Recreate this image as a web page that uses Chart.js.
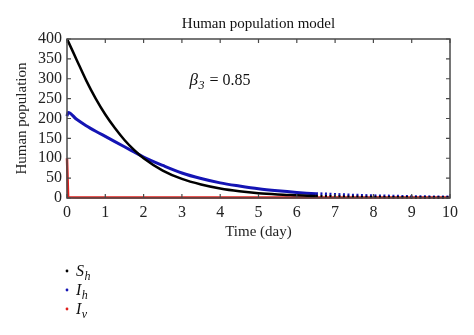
<!DOCTYPE html>
<html>
<head>
<meta charset="utf-8">
<script src="https://cdn.jsdelivr.net/npm/chart.js@4"></script>
<style>
  html, body { margin: 0; padding: 0; background: #fff; }
  #wrap { width: 474px; height: 335px; }
</style>
</head>
<body>
<div id="wrap"><canvas id="popChart" width="474" height="335"></canvas></div>
<script>
// time (days) and the three model populations
const tDays = [0, 0.03, 0.25, 0.5, 0.75, 1, 1.25, 1.5, 1.75, 2, 2.5, 3, 3.5, 4, 4.5, 5, 5.5, 6, 6.5, 7, 7.5, 8, 8.5, 9, 9.5, 10];
const susceptibleHuman = [400, 394, 348, 296, 250, 210, 176, 146, 121, 100, 69, 48, 34, 24, 17, 12, 9, 7, 5, 4, 3, 2.5, 2, 1.5, 1.2, 1];
const infectedHuman    = [206, 215, 198, 182, 168, 155, 142, 129, 116, 103, 82, 63, 49, 38, 30, 23, 18, 14, 11, 9, 7, 5.5, 4.5, 3.5, 2.8, 2.2];
const infectedVector   = [100, 2, 1.5, 1.5, 1.5, 1.5, 1.5, 1.5, 1.5, 1.5, 1.5, 1.5, 1.5, 1.5, 1.5, 1.5, 1.5, 1.5, 1.5, 1.5, 1.5, 1.5, 1.5, 1.5, 1.5, 1.5];

const xTicks = [0, 1, 2, 3, 4, 5, 6, 7, 8, 9, 10];
const yTicks = [0, 50, 100, 150, 200, 250, 300, 350, 400];

const legendItems = [
    { main: 'S', sub: 'h', color: '#000000' },
    { main: 'I', sub: 'h', color: '#1414b4' },
    { main: 'I', sub: 'v', color: '#e0201c' }
];

const SERIF = '"Liberation Serif", "DejaVu Serif", serif';

function toPoints(ys) {
    return ys.map((y, i) => ({ x: tDays[i], y: y }));
}

// past ~6.5 days the solver output gets sparse, drawn as a dotted run
const tailDash = ctx => ctx.p0.parsed.x >= 6.5 ? [2, 2.5] : undefined;

function drawSubText(ctx, x, y, main, sub, size) {
    ctx.font = 'italic ' + size + 'px ' + SERIF;
    ctx.fillText(main, x, y);
    const w = ctx.measureText(main).width;
    ctx.font = 'italic ' + Math.round(size * 0.72) + 'px ' + SERIF;
    ctx.fillText(sub, x + w + 0.5, y + size * 0.25);
    return x + w + 0.5 + ctx.measureText(sub).width;
}

const framePlugin = {
    id: 'frame',
    afterDraw(chart) {
        const ctx = chart.ctx;
        const a = chart.chartArea;
        const xs = chart.scales.x;
        const ys = chart.scales.y;
        ctx.save();
        ctx.strokeStyle = '#4a4a4a';
        ctx.lineWidth = 1.5;
        ctx.strokeRect(a.left, a.top, a.right - a.left, a.bottom - a.top);
        ctx.lineWidth = 1.2;
        ctx.beginPath();
        xTicks.forEach(v => {
            const px = xs.getPixelForValue(v);
            ctx.moveTo(px, a.bottom); ctx.lineTo(px, a.bottom - 4);
            ctx.moveTo(px, a.top); ctx.lineTo(px, a.top + 4);
        });
        yTicks.forEach(v => {
            const py = ys.getPixelForValue(v);
            ctx.moveTo(a.left, py); ctx.lineTo(a.left + 4, py);
            ctx.moveTo(a.right, py); ctx.lineTo(a.right - 4, py);
        });
        ctx.stroke();

        // title
        ctx.fillStyle = '#111';
        ctx.font = '15px ' + SERIF;
        ctx.textAlign = 'center';
        ctx.textBaseline = 'alphabetic';
        ctx.fillText('Human population model', (a.left + a.right) / 2, 28);

        // parameter note
        ctx.textAlign = 'left';
        let bx = xs.getPixelForValue(3.2);
        const by = ys.getPixelForValue(285);
        bx = drawSubText(ctx, bx, by, 'β', '3', 17);
        ctx.font = '16px ' + SERIF;
        ctx.fillText(' = 0.85', bx + 1, by);

        // legend under the axes
        legendItems.forEach((it, i) => {
            const cy = 271 + i * 19;
            ctx.fillStyle = it.color;
            ctx.beginPath();
            ctx.arc(67, cy, 1.4, 0, Math.PI * 2);
            ctx.fill();
            ctx.fillStyle = '#111';
            drawSubText(ctx, 76, cy + 5, it.main, it.sub, 16);
        });
        ctx.restore();
    }
};

const chart = new Chart(document.getElementById('popChart'), {
    type: 'line',
    data: {
        datasets: [
            {
                label: 'S_h',
                data: toPoints(susceptibleHuman),
                borderColor: '#000000',
                borderWidth: 2.5,
                pointRadius: 0,
                cubicInterpolationMode: 'monotone',
                segment: { borderDash: tailDash }
            },
            {
                label: 'I_h',
                data: toPoints(infectedHuman),
                borderColor: '#1414b4',
                borderWidth: 3,
                pointRadius: 0,
                cubicInterpolationMode: 'monotone',
                segment: { borderDash: tailDash }
            },
            {
                label: 'I_v',
                data: toPoints(infectedVector),
                borderColor: '#e0201c',
                borderWidth: 2.5,
                pointRadius: 0,
                tension: 0
            }
        ]
    },
    options: {
        responsive: false,
        animation: false,
        clip: false,
        layout: { padding: { top: 39, right: 24, left: 13, bottom: 92 } },
        plugins: { legend: { display: false }, tooltip: { enabled: false } },
        scales: {
            x: {
                type: 'linear',
                min: 0,
                max: 10,
                afterBuildTicks: s => { s.ticks = xTicks.map(v => ({ value: v })); },
                afterFit: s => { s.height = 45; },
                grid: { display: false },
                border: { display: false },
                ticks: { color: '#222', font: { family: SERIF, size: 16 }, padding: -3, autoSkip: false, maxRotation: 0 },
                title: {
                    display: true,
                    text: 'Time (day)',
                    color: '#222',
                    font: { family: SERIF, size: 15 },
                    padding: { top: 0, bottom: 2 }
                }
            },
            y: {
                min: 0,
                max: 400,
                afterBuildTicks: s => { s.ticks = yTicks.map(v => ({ value: v })); },
                afterFit: s => { s.width = 54; },
                grid: { display: false },
                border: { display: false },
                ticks: { color: '#222', font: { family: SERIF, size: 16 }, padding: -3, autoSkip: false },
                title: {
                    display: true,
                    text: 'Human population',
                    color: '#222',
                    font: { family: SERIF, size: 15 },
                    padding: { top: 0, bottom: 0 }
                }
            }
        }
    },
    plugins: [framePlugin]
});
</script>
</body>
</html>
